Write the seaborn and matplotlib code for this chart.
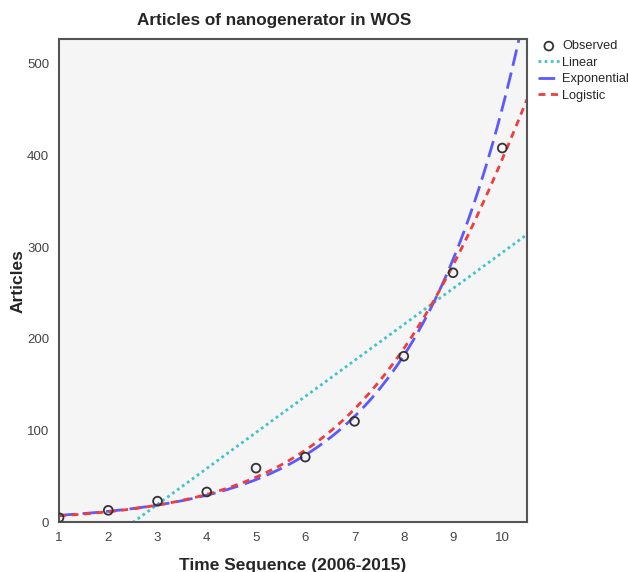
import numpy as np
import pandas as pd
import matplotlib
matplotlib.use("Agg")
import matplotlib.pyplot as plt
import seaborn as sns

years = [1, 2, 3, 4, 5, 6, 7, 8, 9, 10]
articles = [5, 13, 23, 33, 59, 71, 110, 181, 272, 408]
x_ticks = [1, 2, 3, 4, 5, 6, 7, 8, 9, 10]
upper_bound = 1100  # logistic upper bound used in the curve estimation

sns.set_style("white")
plt.rcParams["font.family"] = ["Liberation Sans", "DejaVu Sans"]

t = np.array(years, dtype=float)
y = np.array(articles, dtype=float)
grid = np.linspace(1, 10.5, 300)

# curve estimation fits
b_lin = np.polyfit(t, y, 1)
b_exp = np.polyfit(t, np.log(y), 1)
b_log = np.polyfit(t, np.log(1 / y - 1 / upper_bound), 1)

fits = pd.DataFrame({
    "t": grid,
    "Linear": np.polyval(b_lin, grid),
    "Exponential": np.exp(np.polyval(b_exp, grid)),
    "Logistic": 1 / (1 / upper_bound + np.exp(np.polyval(b_log, grid))),
})
obs = pd.DataFrame({"t": years, "Articles": articles})

fig = plt.figure(figsize=(6.28, 5.72), dpi=100)
ax = fig.add_axes([0.094, 0.087, 0.745, 0.845])
ax.set_facecolor("#f5f5f5")

sns.scatterplot(data=obs, x="t", y="Articles", ax=ax, marker="o", s=40,
                facecolor="none", edgecolor="#333333", linewidth=1.3,
                label="Observed", zorder=5)
sns.lineplot(data=fits, x="t", y="Linear", ax=ax, color="#40c4c8",
             linestyle=(0, (1, 1.2)), linewidth=2, label="Linear")
sns.lineplot(data=fits, x="t", y="Exponential", ax=ax, color="#5a5aff",
             linestyle=(0, (6, 2.5)), linewidth=2, label="Exponential")
sns.lineplot(data=fits, x="t", y="Logistic", ax=ax, color="#f03c3c",
             linestyle=(0, (2.5, 2)), linewidth=2, label="Logistic")

ax.set_xlim(1, 10.5)
ax.set_ylim(0, 527)
ax.set_xticks(x_ticks)
ax.set_yticks([0, 100, 200, 300, 400, 500])
ax.tick_params(direction="out", length=6, width=1.5, color="#444444",
               labelsize=9.5, labelcolor="#444444", pad=1)
for s in ax.spines.values():
    s.set_color("#555555")
    s.set_linewidth(1.5)

ax.set_title("Articles of nanogenerator in WOS", fontsize=12.3,
             fontweight="bold", pad=10, x=0.46)
ax.set_xlabel("Time Sequence (2006-2015)", fontsize=12.5, fontweight="bold",
              labelpad=10)
ax.set_ylabel("Articles", fontsize=12.5, fontweight="bold", labelpad=1)

leg = ax.legend(loc="upper left", bbox_to_anchor=(1.01, 1.01), frameon=False,
                fontsize=9.2, handlelength=1.7, handletextpad=0.2,
                labelspacing=0.35, borderaxespad=0.2, borderpad=0.3)

fig.savefig("out.png", dpi=100)
